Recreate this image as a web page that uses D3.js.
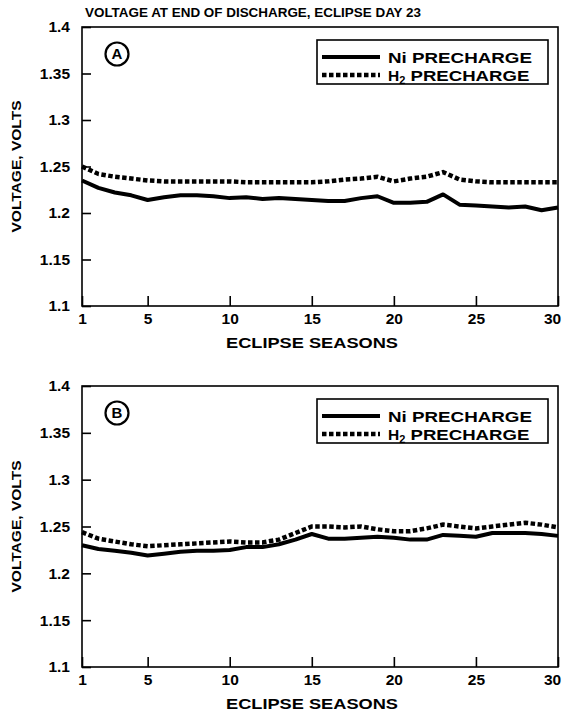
<!DOCTYPE html>
<html>
<head>
<meta charset="utf-8">
<script src="https://cdn.jsdelivr.net/npm/d3@7"></script>
<style>
	body { margin: 0; background: #fff; }
	svg text { font-family: 'Liberation Sans', Arial, sans-serif; font-weight: bold; fill: #000; }
</style>
</head>
<body>
<div id="canvas"></div>
<script>
const seasons = d3.range(1, 31);
const xTicks = [1, 5, 10, 15, 20, 25, 30];
const yTicks = [1.1, 1.15, 1.2, 1.25, 1.3, 1.35, 1.4];
const yTickLabels = ['1.1', '1.15', '1.2', '1.25', '1.3', '1.35', '1.4'];

// panel A
const niA = [1.235, 1.227, 1.222, 1.219, 1.214, 1.217, 1.219, 1.219, 1.218, 1.216,
	1.217, 1.215, 1.216, 1.215, 1.214, 1.213, 1.213, 1.216, 1.218, 1.211,
	1.211, 1.212, 1.220, 1.209, 1.208, 1.207, 1.206, 1.207, 1.203, 1.206];
const h2A = [1.250, 1.242, 1.239, 1.237, 1.235, 1.234, 1.234, 1.234, 1.234, 1.234,
	1.233, 1.233, 1.233, 1.233, 1.233, 1.234, 1.236, 1.237, 1.239, 1.234,
	1.237, 1.239, 1.244, 1.236, 1.234, 1.233, 1.233, 1.233, 1.233, 1.233];

// panel B
const niB = [1.230, 1.226, 1.224, 1.222, 1.219, 1.221, 1.223, 1.224, 1.224, 1.225,
	1.228, 1.228, 1.231, 1.236, 1.242, 1.237, 1.237, 1.238, 1.239, 1.238,
	1.236, 1.236, 1.241, 1.240, 1.239, 1.243, 1.243, 1.243, 1.242, 1.240];
const h2B = [1.244, 1.237, 1.234, 1.231, 1.229, 1.230, 1.231, 1.232, 1.233, 1.234,
	1.233, 1.233, 1.236, 1.243, 1.250, 1.250, 1.249, 1.250, 1.247, 1.245,
	1.245, 1.248, 1.252, 1.250, 1.248, 1.250, 1.252, 1.254, 1.252, 1.249];

const title = 'VOLTAGE AT END OF DISCHARGE, ECLIPSE DAY 23';
const panelNames = ['A', 'B'];

const width = 565;
const height = 721;
const left = 82;
const right = 558;
const panels = [
	{ name: panelNames[0], ni: niA, h2: h2A, top: 27, bottom: 306 },
	{ name: panelNames[1], ni: niB, h2: h2B, top: 386, bottom: 667 },
];

const svg = d3.select('#canvas').append('svg').attr('width', width).attr('height', height);

svg.append('text')
	.attr('x', 85)
	.attr('y', 17)
	.attr('font-size', 13.5)
	.attr('textLength', 336)
	.attr('lengthAdjust', 'spacingAndGlyphs')
	.text(title);

const x = d3.scaleLinear().domain([1, 30]).range([left, right]);

panels.forEach(p => drawPanel(p));

function drawPanel(p) {
	const y = d3.scaleLinear().domain([1.1, 1.4]).range([p.bottom, p.top]);
	const g = svg.append('g');

	// axes, ticks pointing inward
	const yAxis = g.append('g')
		.attr('transform', `translate(${left},0)`)
		.call(d3.axisLeft(y).tickValues(yTicks).tickSizeInner(-9).tickSizeOuter(0).tickPadding(12)
			.tickFormat((d, i) => yTickLabels[i]));
	const xAxis = g.append('g')
		.attr('transform', `translate(0,${p.bottom})`)
		.call(d3.axisBottom(x).tickValues(xTicks).tickSizeInner(-10).tickSizeOuter(0).tickPadding(7));

	[yAxis, xAxis].forEach(ax => {
		ax.select('.domain').remove();
		ax.selectAll('line').attr('stroke', '#000').attr('stroke-width', 1.6);
		ax.selectAll('text').attr('font-size', 15.5).attr('font-family', null);
	});
	// keep the last label inside the page
	xAxis.selectAll('.tick text').filter(d => d === 30).attr('dx', -6);

	g.append('rect')
		.attr('x', left)
		.attr('y', p.top)
		.attr('width', right - left)
		.attr('height', p.bottom - p.top)
		.attr('fill', 'none')
		.attr('stroke', '#000')
		.attr('stroke-width', 1.6);

	g.append('text')
		.attr('x', 226)
		.attr('y', p.bottom + 42)
		.attr('font-size', 15.5)
		.attr('textLength', 172)
		.attr('lengthAdjust', 'spacingAndGlyphs')
		.text('ECLIPSE SEASONS');

	g.append('text')
		.attr('transform', `translate(21,${(p.top + p.bottom) / 2}) rotate(-90)`)
		.attr('x', -66)
		.attr('font-size', 13.5)
		.attr('textLength', 132)
		.attr('lengthAdjust', 'spacingAndGlyphs')
		.text('VOLTAGE, VOLTS');

	const line = d3.line().x((d, i) => x(seasons[i])).y(d => y(d));

	g.append('path')
		.attr('d', line(p.h2))
		.attr('fill', 'none')
		.attr('stroke', '#000')
		.attr('stroke-width', 4.5)
		.attr('stroke-dasharray', '4.5 2.5');
	g.append('path')
		.attr('d', line(p.ni))
		.attr('fill', 'none')
		.attr('stroke', '#000')
		.attr('stroke-width', 4)
		.attr('stroke-linejoin', 'round');

	// panel letter
	g.append('circle')
		.attr('cx', 117)
		.attr('cy', p.top + 27)
		.attr('r', 11.5)
		.attr('fill', '#fff')
		.attr('stroke', '#000')
		.attr('stroke-width', 2.2);
	g.append('text')
		.attr('x', 117)
		.attr('y', p.top + 27)
		.attr('dy', '0.36em')
		.attr('text-anchor', 'middle')
		.attr('font-size', 15)
		.text(p.name);

	// legend
	const lg = g.append('g').attr('transform', `translate(317,${p.top + 13})`);
	lg.append('rect')
		.attr('width', 231)
		.attr('height', 44)
		.attr('fill', '#fff')
		.attr('stroke', '#000')
		.attr('stroke-width', 1.6);
	const items = [
		{ dash: null, w: 4, label: 'Ni PRECHARGE', len: 144, dy: 17 },
		{ dash: '4.5 2.5', w: 4.5, label: 'H', sub: '2', rest: ' PRECHARGE', len: 144, dy: 35 },
	];
	items.forEach(it => {
		lg.append('line')
			.attr('x1', 5)
			.attr('x2', 63)
			.attr('y1', it.dy)
			.attr('y2', it.dy)
			.attr('stroke', '#000')
			.attr('stroke-width', it.w)
			.attr('stroke-dasharray', it.dash);
		const t = lg.append('text')
			.attr('x', 71)
			.attr('y', it.dy + 5.5)
			.attr('font-size', 15.5);
		if (it.sub) {
			t.append('tspan').text(it.label);
			t.append('tspan').attr('font-size', 11).attr('dy', 3).text(it.sub);
			t.append('tspan').attr('dy', -3).attr('textLength', 124).attr('lengthAdjust', 'spacingAndGlyphs').text(it.rest);
		} else {
			t.attr('textLength', it.len).attr('lengthAdjust', 'spacingAndGlyphs').text(it.label);
		}
	});
}
</script>
</body>
</html>
